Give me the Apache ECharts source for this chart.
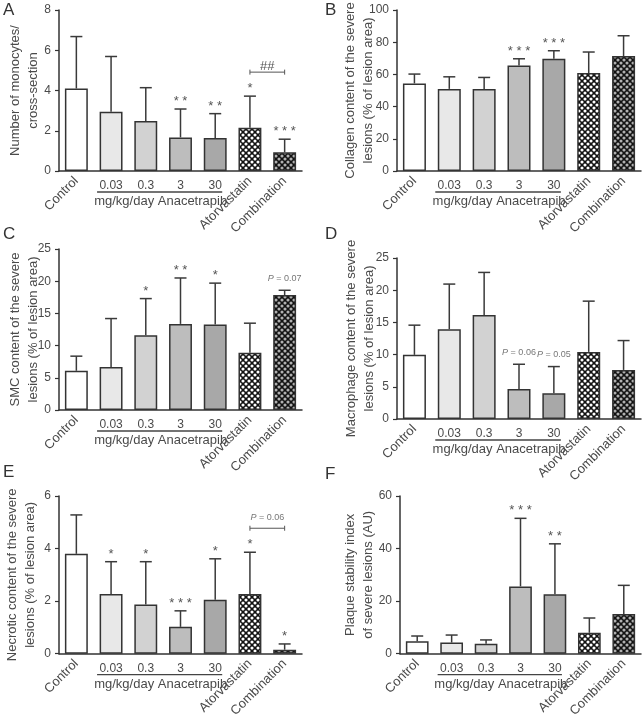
<!DOCTYPE html>
<html>
<head>
<meta charset="utf-8">
<script src="https://cdn.jsdelivr.net/npm/echarts/dist/echarts.min.js"></script>
<style>
html,body{margin:0;padding:0;background:#fff;}
#chart{width:644px;height:720px;}
</style>
</head>
<body>
<div id="chart"></div>
<script>
// ---------------- data ----------------
const categories = ['Control', '0.03', '0.3', '3', '30', 'Atorvastatin', 'Combination'];
const doseGroupLabel = 'mg/kg/day Anacetrapib';
const panelLetters = ['A', 'B', 'C', 'D', 'E', 'F'];
const yTitles = [
  'Number of monocytes/\ncross-section',
  'Collagen content of the severe\nlesions (% of lesion area)',
  'SMC content of the severe\nlesions (% of lesion area)',
  'Macrophage content of the severe\nlesions (% of lesion area)',
  'Necrotic content of the severe\nlesions (% of lesion area)',
  'Plaque stability index\nof severe lesions (AU)'
];
const yMax = [8, 100, 25, 25, 6, 60];
const yStep = [2, 20, 5, 5, 2, 20];

const monocytesMean = [4.10, 2.95, 2.48, 1.67, 1.64, 2.15, 0.93];
const monocytesSD   = [2.58, 2.74, 1.66, 1.41, 1.21, 1.57, 0.65];
const monocytesSig  = ['', '', '', '**', '**', '*', '***'];
const monocytesBracket = { from: 5, to: 6, text: '##' };

const collagenMean = [54.4, 51.0, 51.0, 65.6, 69.7, 60.8, 71.4];
const collagenSD   = [5.8, 7.5, 7.1, 4.1, 5.0, 13.1, 12.6];
const collagenSig  = ['', '', '', '***', '***', '', ''];

const smcMean = [6.09, 6.66, 11.62, 13.37, 13.27, 8.88, 17.86];
const smcSD   = [2.27, 7.54, 5.68, 7.13, 6.43, 4.60, 0.73];
const smcSig  = ['', '', '*', '**', '*', '', 'P = 0.07'];

const macrophageMean = [9.96, 13.95, 16.13, 4.67, 3.99, 10.42, 7.62];
const macrophageSD   = [4.61, 7.00, 6.63, 3.83, 4.15, 7.88, 4.56];
const macrophageSig  = ['', '', '', 'P = 0.06', 'P = 0.05', '', ''];

const necroticMean = [3.80, 2.27, 1.87, 1.02, 2.05, 2.27, 0.15];
const necroticSD   = [1.48, 1.23, 1.63, 0.61, 1.56, 1.59, 0.22];
const necroticSig  = ['', '*', '*', '***', '*', '*', '*'];
const necroticBracket = { from: 5, to: 6, text: 'P = 0.06' };

const stabilityMean = [4.73, 4.23, 3.73, 25.6, 22.65, 7.96, 15.06];
const stabilitySD   = [1.99, 2.86, 1.50, 25.9, 19.15, 5.61, 10.94];
const stabilitySig  = ['', '', '', '***', '**', '', ''];

// ---------------- styling ----------------
const FONT = '"Liberation Sans", Arial, Helvetica, sans-serif';
const TXT = '#4a4a4a';
const AX = '#333';

function hatch(dot, r) {
  const c = document.createElement('canvas');
  c.width = 6; c.height = 6;
  const g = c.getContext('2d');
  g.fillStyle = '#111';
  g.fillRect(0, 0, 6, 6);
  g.fillStyle = dot;
  [[3, 3], [0, 0], [6, 0], [0, 6], [6, 6]].forEach(function (p) {
    g.beginPath(); g.arc(p[0], p[1], r, 0, Math.PI * 2); g.fill();
  });
  return { image: c, repeat: 'repeat' };
}
const fills = ['#ffffff', '#e8e8e8', '#d2d2d2', '#bdbdbd', '#a8a8a8', hatch('#ffffff', 1.55), hatch('#b0b0b0', 1.55)];

const grids = [
  { left: 59, top: 10, width: 243, height: 161 },
  { left: 397, top: 10, width: 244, height: 161 },
  { left: 59, top: 249, width: 243, height: 161 },
  { left: 397, top: 258, width: 244, height: 161 },
  { left: 59, top: 496, width: 243, height: 161 },
  { left: 400, top: 496, width: 241, height: 161 }
];
const nameGaps = [17, 20, 17, 19, 20, 23];
const letterPos = [[3, 2], [325, 2], [3, 226], [325, 226], [3, 464], [325, 466]];

const panels = [
  { mean: monocytesMean, sd: monocytesSD, sig: monocytesSig, bracket: monocytesBracket },
  { mean: collagenMean, sd: collagenSD, sig: collagenSig },
  { mean: smcMean, sd: smcSD, sig: smcSig },
  { mean: macrophageMean, sd: macrophageSD, sig: macrophageSig },
  { mean: necroticMean, sd: necroticSD, sig: necroticSig, bracket: necroticBracket },
  { mean: stabilityMean, sd: stabilitySD, sig: stabilitySig }
];

function annotText(s, x, y) {
  if (s.charAt(0) === 'P') {
    return {
      type: 'text',
      style: {
        text: '{i|P}' + s.slice(1), x: x, y: y, align: 'center', verticalAlign: 'middle',
        fill: '#777', fontSize: 9, fontFamily: FONT,
        rich: { i: { fontStyle: 'italic', fontSize: 9, fontFamily: FONT, fill: '#777' } }
      }
    };
  }
  const shown = s.charAt(0) === '*' ? s.split('').join(' ') : s;
  return {
    type: 'text',
    style: { text: shown, x: x, y: y, align: 'center', verticalAlign: 'bottom', fill: '#555', fontSize: 13, fontFamily: FONT }
  };
}

const option = {
  animation: false,
  backgroundColor: '#fff',
  grid: grids.map(g => Object.assign({ containLabel: false }, g)),
  xAxis: [],
  yAxis: [],
  series: [],
  graphic: panelLetters.map((L, i) => ({
    type: 'text', left: letterPos[i][0], top: letterPos[i][1],
    style: { text: L, fontSize: 17, fontFamily: FONT, fill: '#333' }
  }))
};

panels.forEach(function (P, p) {
  // main category axis (rotated labels for non-dose groups)
  option.xAxis.push({
    type: 'category', gridIndex: p, data: categories, position: 'bottom',
    axisLine: { lineStyle: { color: AX, width: 1.5 } },
    axisTick: { alignWithLabel: true, length: 5, lineStyle: { color: AX, width: 1.2 } },
    axisLabel: {
      interval: 0, rotate: 45, margin: 8, color: TXT, fontSize: 13, fontFamily: FONT,
      formatter: (v, i) => (i >= 1 && i <= 4) ? '' : v
    }
  });
  // dose labels (horizontal)
  option.xAxis.push({
    type: 'category', gridIndex: p, data: categories, position: 'bottom', offset: 0,
    axisLine: { show: false }, axisTick: { show: false },
    axisLabel: {
      interval: 0, rotate: 0, margin: 9, color: TXT, fontSize: 12, fontFamily: FONT,
      formatter: (v, i) => (i >= 1 && i <= 4) ? v : ''
    }
  });
  option.yAxis.push({
    type: 'value', gridIndex: p, min: 0, max: yMax[p], interval: yStep[p],
    name: yTitles[p], nameLocation: 'middle', nameGap: nameGaps[p], nameRotate: 90,
    nameMoveOverlap: false,
    nameTextStyle: { color: TXT, fontSize: 13, fontFamily: FONT, lineHeight: 18 },
    axisLine: { show: true, lineStyle: { color: AX, width: 1.5 } },
    axisTick: { show: true, length: 4, lineStyle: { color: AX, width: 1.2 } },
    axisLabel: { color: TXT, fontSize: 12, fontFamily: FONT, margin: 8 },
    splitLine: { show: false }
  });

  option.series.push({
    type: 'bar', xAxisIndex: 2 * p, yAxisIndex: p, barWidth: '66%', z: 2,
    data: P.mean.map((m, i) => ({ value: m, itemStyle: { color: fills[i], borderColor: '#333', borderWidth: 1.5 } }))
  });

  const sig = P.sig;
  option.series.push({
    type: 'custom', xAxisIndex: 2 * p, yAxisIndex: p, z: 3, clip: false,
    data: P.mean.map((m, i) => [i, m, m + P.sd[i]]),
    renderItem: function (params, api) {
      const i = api.value(0);
      const b = api.coord([i, api.value(1)]);
      const t = api.coord([i, api.value(2)]);
      const st = { stroke: '#3a3a3a', lineWidth: 1.5 };
      const ch = [
        { type: 'line', shape: { x1: b[0], y1: b[1], x2: t[0], y2: t[1] }, style: st },
        { type: 'line', shape: { x1: t[0] - 6, y1: t[1], x2: t[0] + 6, y2: t[1] }, style: st }
      ];
      const s = sig[params.dataIndex];
      if (s) {
        ch.push(s.charAt(0) === 'P' ? annotText(s, t[0], t[1] - 12) : annotText(s, t[0], t[1] - 1));
      }
      return { type: 'group', children: ch };
    }
  });

  // dose group underline + label
  option.series.push({
    type: 'custom', xAxisIndex: 2 * p, yAxisIndex: p, z: 3, clip: false,
    data: [[1, 0, 4]],
    renderItem: function (params, api) {
      const a = api.coord([api.value(0), api.value(1)]);
      const c = api.coord([api.value(2), api.value(1)]);
      const x1 = a[0] - 14, x2 = c[0] + 7, y = a[1] + 21;
      return {
        type: 'group', children: [
          { type: 'line', shape: { x1: x1, y1: y, x2: x2, y2: y }, style: { stroke: '#444', lineWidth: 1.3 } },
          { type: 'text', style: { text: doseGroupLabel, x: (x1 + x2) / 2 + 1, y: y + 3, align: 'center', verticalAlign: 'top', fill: TXT, fontSize: 13, fontFamily: FONT } }
        ]
      };
    }
  });

  if (P.bracket) {
    const br = P.bracket;
    option.series.push({
      type: 'custom', xAxisIndex: 2 * p, yAxisIndex: p, z: 3, clip: false,
      data: [[br.from, P.mean[br.from] + P.sd[br.from], br.to, P.mean[br.to] + P.sd[br.to]]],
      renderItem: function (params, api) {
        const a = api.coord([api.value(0), api.value(1)]);
        const c = api.coord([api.value(2), api.value(3)]);
        const y = Math.min(a[1], c[1]) - 24;
        const st = { stroke: '#555', lineWidth: 1 };
        const ch = [
          { type: 'line', shape: { x1: a[0], y1: y, x2: c[0], y2: y }, style: st },
          { type: 'line', shape: { x1: a[0], y1: y - 2.5, x2: a[0], y2: y + 2.5 }, style: st },
          { type: 'line', shape: { x1: c[0], y1: y - 2.5, x2: c[0], y2: y + 2.5 }, style: st }
        ];
        const mx = (a[0] + c[0]) / 2;
        ch.push(br.text.charAt(0) === 'P' ? annotText(br.text, mx, y - 11) : annotText(br.text, mx, y + 1));
        return { type: 'group', children: ch };
      }
    });
  }
});

const chart = echarts.init(document.getElementById('chart'), null, { renderer: 'canvas' });
chart.setOption(option);
</script>
</body>
</html>
